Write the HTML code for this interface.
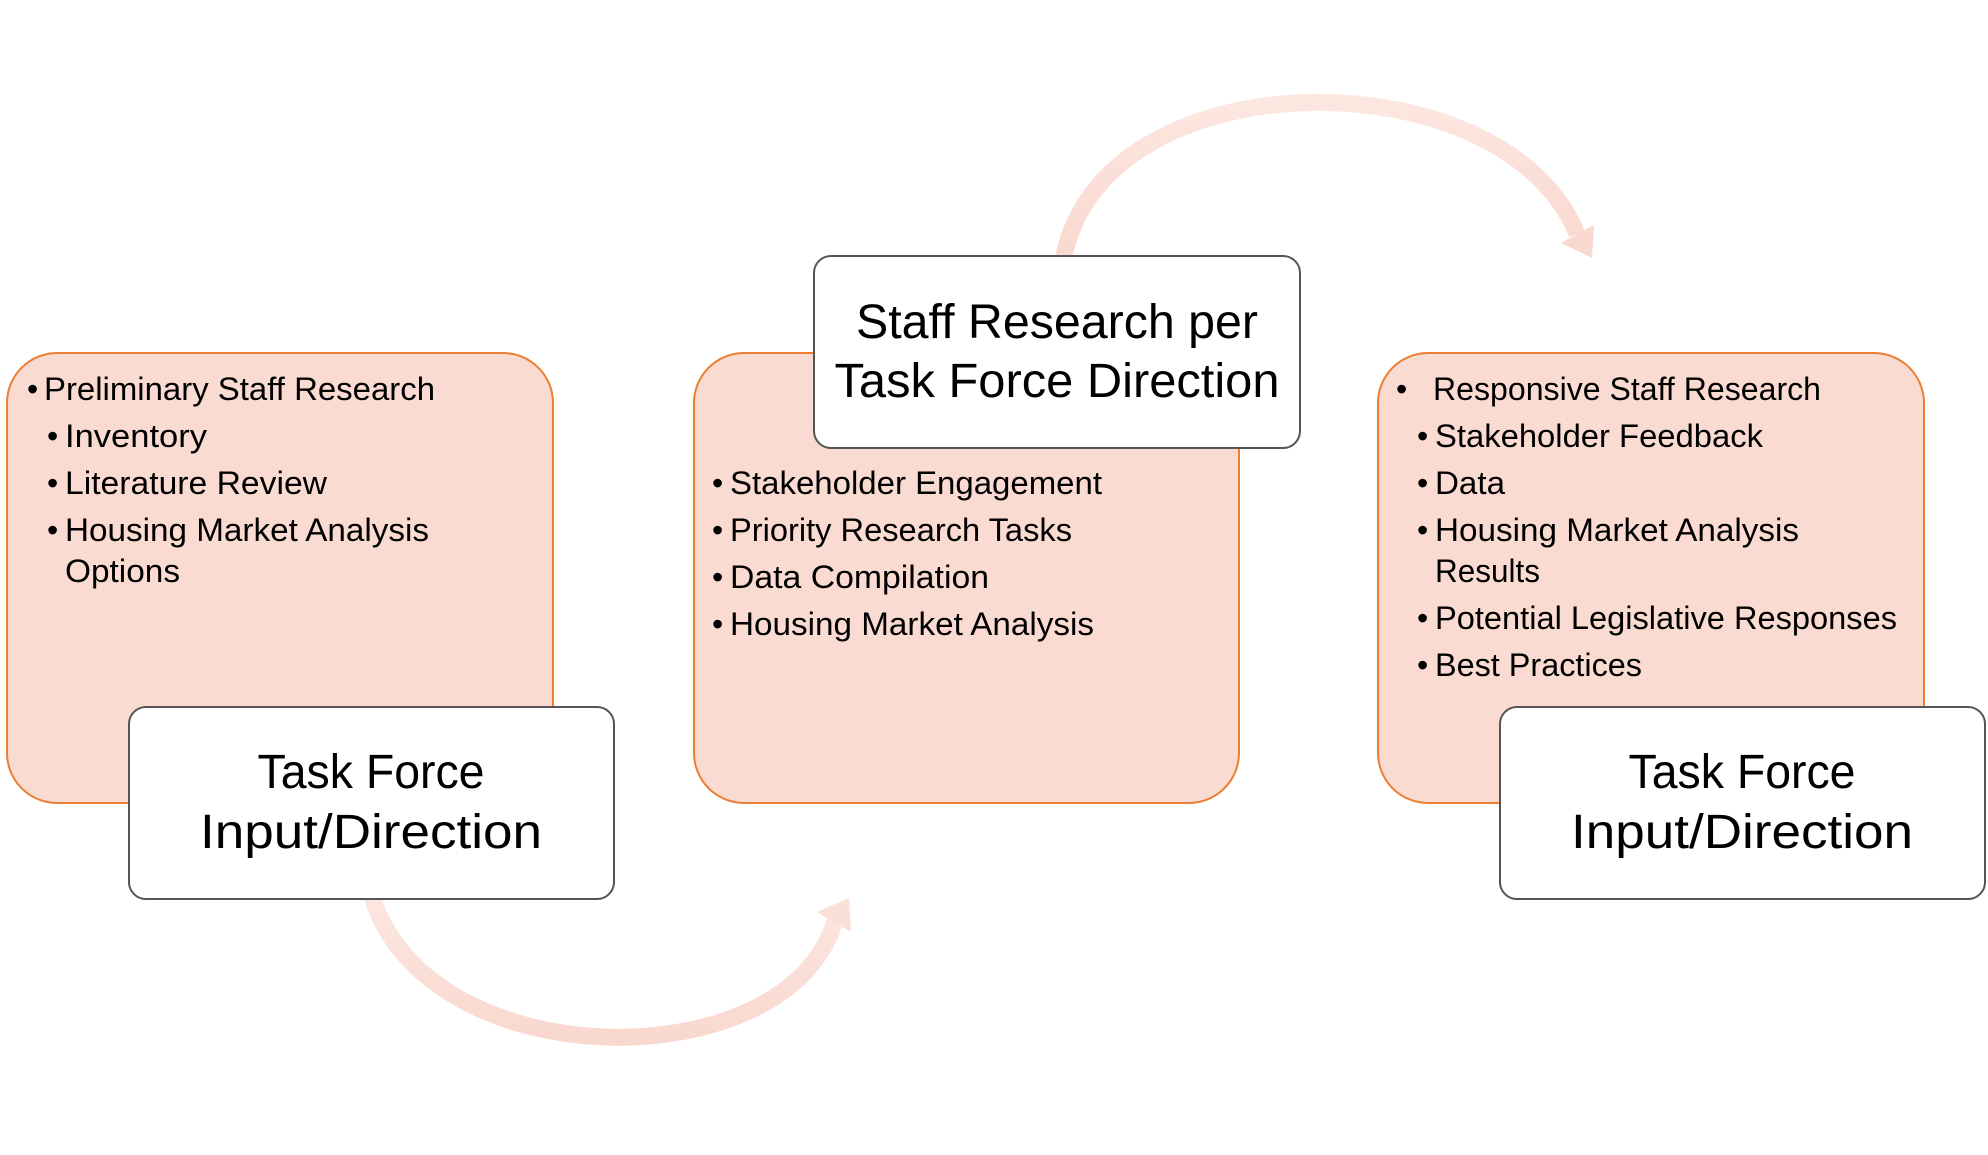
<!DOCTYPE html>
<html><head><meta charset="utf-8"><style>
html,body{margin:0;padding:0;background:#fff;}
svg{display:block;}
text{font-family:"Liberation Sans",sans-serif;fill:#000;}
.b{font-size:32px;}
.t{font-size:48px;}
</style></head><body>
<svg width="1988" height="1155" viewBox="0 0 1988 1155" xmlns="http://www.w3.org/2000/svg">
<defs>
<linearGradient id="ag" x1="0" y1="0" x2="0" y2="1">
<stop offset="0" stop-color="#fce7e0"/><stop offset="1" stop-color="#f9d8cf"/>
</linearGradient>
</defs>
<path d="M1064,256 C1105,55 1505,55 1577,234" fill="none" stroke="url(#ag)" stroke-width="17"/>
<polygon points="1561,243 1594,225 1592,258" fill="#f9d8cf"/>
<path d="M372,897 C430,1080 790,1080 835,920" fill="none" stroke="url(#ag)" stroke-width="17"/>
<polygon points="849,898 817,912 851,932" fill="#fbe0d8"/>

<rect x="7" y="353" width="546" height="450" rx="50" fill="#f9dbd2" stroke="#ed7d31" stroke-width="2"/>
<rect x="694" y="353" width="545" height="450" rx="50" fill="#f9dbd2" stroke="#ed7d31" stroke-width="2"/>
<rect x="1378" y="353" width="546" height="450" rx="50" fill="#f9dbd2" stroke="#ed7d31" stroke-width="2"/>

<g class="b">
<text x="27" y="400">•</text><text x="44" y="400" textLength="391" lengthAdjust="spacingAndGlyphs">Preliminary Staff Research</text>
<text x="47" y="447">•</text><text x="65" y="447" textLength="142" lengthAdjust="spacingAndGlyphs">Inventory</text>
<text x="47" y="494">•</text><text x="65" y="494" textLength="262" lengthAdjust="spacingAndGlyphs">Literature Review</text>
<text x="47" y="541">•</text><text x="65" y="541" textLength="364" lengthAdjust="spacingAndGlyphs">Housing Market Analysis</text>
<text x="65" y="582" textLength="115" lengthAdjust="spacingAndGlyphs">Options</text>
</g>
<g class="b">
<text x="712" y="494">•</text><text x="730" y="494" textLength="372" lengthAdjust="spacingAndGlyphs">Stakeholder Engagement</text>
<text x="712" y="541">•</text><text x="730" y="541" textLength="342" lengthAdjust="spacingAndGlyphs">Priority Research Tasks</text>
<text x="712" y="588">•</text><text x="730" y="588" textLength="259" lengthAdjust="spacingAndGlyphs">Data Compilation</text>
<text x="712" y="635">•</text><text x="730" y="635" textLength="364" lengthAdjust="spacingAndGlyphs">Housing Market Analysis</text>
</g>
<g class="b">
<text x="1396" y="400">•</text><text x="1433" y="400" textLength="388" lengthAdjust="spacingAndGlyphs">Responsive Staff Research</text>
<text x="1417" y="447">•</text><text x="1435" y="447" textLength="328" lengthAdjust="spacingAndGlyphs">Stakeholder Feedback</text>
<text x="1417" y="494">•</text><text x="1435" y="494" textLength="70" lengthAdjust="spacingAndGlyphs">Data</text>
<text x="1417" y="541">•</text><text x="1435" y="541" textLength="364" lengthAdjust="spacingAndGlyphs">Housing Market Analysis</text>
<text x="1435" y="582" textLength="105" lengthAdjust="spacingAndGlyphs">Results</text>
<text x="1417" y="629">•</text><text x="1435" y="629" textLength="462" lengthAdjust="spacingAndGlyphs">Potential Legislative Responses</text>
<text x="1417" y="676">•</text><text x="1435" y="676" textLength="207" lengthAdjust="spacingAndGlyphs">Best Practices</text>
</g>

<rect x="129" y="707" width="485" height="192" rx="17" fill="#fff" stroke="#555" stroke-width="2"/>
<rect x="814" y="256" width="486" height="192" rx="17" fill="#fff" stroke="#555" stroke-width="2"/>
<rect x="1500" y="707" width="485" height="192" rx="17" fill="#fff" stroke="#555" stroke-width="2"/>

<g class="t" text-anchor="middle">
<text x="371" y="788" textLength="227" lengthAdjust="spacingAndGlyphs">Task Force</text>
<text x="371" y="848" textLength="342" lengthAdjust="spacingAndGlyphs">Input/Direction</text>
<text x="1057" y="338" textLength="402" lengthAdjust="spacingAndGlyphs">Staff Research per</text>
<text x="1057" y="397" textLength="445" lengthAdjust="spacingAndGlyphs">Task Force Direction</text>
<text x="1742" y="788" textLength="227" lengthAdjust="spacingAndGlyphs">Task Force</text>
<text x="1742" y="848" textLength="342" lengthAdjust="spacingAndGlyphs">Input/Direction</text>
</g>
</svg>
</body></html>
